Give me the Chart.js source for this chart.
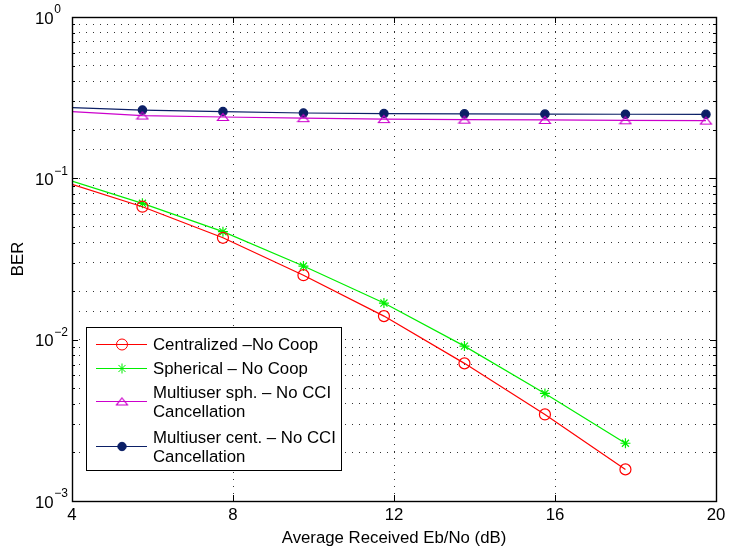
<!DOCTYPE html>
<html>
<head>
<meta charset="utf-8">
<script src="https://cdn.jsdelivr.net/npm/chart.js@4"></script>
<style>
  body { margin: 0; background: #fff; }
  canvas { display: block; }
</style>
</head>
<body>
<canvas id="berChart" width="731" height="554"></canvas>
<script>
// Eb/No (dB) sample points; first point only starts the line (no marker)
const ebno = [4, 5.75, 7.75, 9.75, 11.75, 13.75, 15.75, 17.75, 19.75];

const centralizedNoCoop = [0.0918, 0.0667, 0.0428, 0.0251, 0.0140, 0.00713, 0.00344, 0.00157];
const sphericalNoCoop = [0.0962, 0.0700, 0.0467, 0.0286, 0.01686, 0.00912, 0.00464, 0.00228];
const multiSphNoCCI = [0.259, 0.245, 0.240, 0.236, 0.233, 0.231, 0.230, 0.229, 0.228];
const multiCentNoCCI = [0.274, 0.265, 0.259, 0.254, 0.252, 0.251, 0.250, 0.2495, 0.249];

const xTicks = [4, 8, 12, 16, 20];
const yDecades = [-3, -2, -1, 0];

const FONT = "'Liberation Sans', Arial, Helvetica, sans-serif";
Chart.defaults.font.family = FONT;
Chart.defaults.font.size = 16.8;
Chart.defaults.color = '#000';

// flat hollow triangle like the matlab '^' marker
function makeTriangle(color) {
  const c = document.createElement('canvas');
  c.width = 14; c.height = 10;
  const g = c.getContext('2d');
  g.strokeStyle = color;
  g.lineWidth = 1.2;
  g.beginPath();
  g.moveTo(7, 1.5);
  g.lineTo(12.5, 8.5);
  g.lineTo(1.5, 8.5);
  g.closePath();
  g.stroke();
  return c;
}
const triMarker = makeTriangle('#cc00cc');

function pts(ys) {
  return ys.map((y, i) => ({ x: ebno[i], y: y }));
}
function radii(ys, r) {
  return ys.map((_, i) => i === 0 ? 0 : r);
}

const series = [
  { label: 'Centralized \u2013No Coop', data: centralizedNoCoop, color: '#ff0000', style: 'circle', r: 5.5, fill: false },
  { label: 'Spherical \u2013 No Coop', data: sphericalNoCoop, color: '#00ee00', style: 'star', r: 5, fill: false },
  { label: ['Multiuser sph. \u2013 No CCI', 'Cancellation'], data: multiSphNoCCI, color: '#cc00cc', style: triMarker, r: 6, fill: false },
  { label: ['Multiuser cent. \u2013 No CCI', 'Cancellation'], data: multiCentNoCCI, color: '#0b1f66', style: 'circle', r: 4.2, fill: true }
];

// frame, inner tick marks, y tick labels with exponents, legend
const matlabAxes = {
  id: 'matlabAxes',
  afterDraw(chart) {
    const ctx = chart.ctx;
    const a = chart.chartArea;
    const xs = chart.scales.x, ys = chart.scales.y;
    ctx.save();
    ctx.strokeStyle = '#000';
    ctx.lineWidth = 1.4;
    ctx.strokeRect(Math.round(a.left) + 0.5, Math.round(a.top) + 0.5,
      Math.round(a.right - a.left), Math.round(a.bottom - a.top));

    ctx.lineWidth = 1;
    ctx.beginPath();
    xTicks.forEach(v => {
      const px = Math.round(xs.getPixelForValue(v)) + 0.5;
      ctx.moveTo(px, a.bottom); ctx.lineTo(px, a.bottom - 6);
      ctx.moveTo(px, a.top); ctx.lineTo(px, a.top + 6);
    });
    yDecades.forEach(d => {
      for (let m = 1; m <= 9; m++) {
        const v = m * Math.pow(10, d);
        if (v > 1) break;
        const py = Math.round(ys.getPixelForValue(v)) + 0.5;
        const len = m === 1 ? 6 : 3;
        ctx.moveTo(a.left, py); ctx.lineTo(a.left + len, py);
        ctx.moveTo(a.right, py); ctx.lineTo(a.right - len, py);
      }
    });
    ctx.stroke();

    // y labels 10^n
    ctx.fillStyle = '#000';
    ctx.textAlign = 'left';
    ctx.textBaseline = 'middle';
    yDecades.forEach(d => {
      const py = ys.getPixelForValue(Math.pow(10, d));
      ctx.font = '16.8px ' + FONT;
      ctx.fillText('10', 35, py + 2);
      const w = ctx.measureText('10').width;
      ctx.font = '12px ' + FONT;
      ctx.fillText(d === 0 ? '0' : '\u2212' + (-d), 35 + w + 0.5, py - 7);
    });

    // legend
    const box = { x: 86, y: 327, w: 255, h: 143 };
    ctx.fillStyle = '#fff';
    ctx.fillRect(box.x, box.y, box.w, box.h);
    ctx.strokeStyle = '#000';
    ctx.lineWidth = 1;
    ctx.strokeRect(box.x + 0.5, box.y + 0.5, box.w, box.h);
    const rows = [
      { y: 344, lines: [344] },
      { y: 368, lines: [368] },
      { y: 401, lines: [392, 411] },
      { y: 446, lines: [437, 456] }
    ];
    ctx.font = '16.8px ' + FONT;
    series.forEach((s, i) => {
      const r = rows[i];
      ctx.strokeStyle = s.color;
      ctx.lineWidth = 1;
      ctx.beginPath();
      ctx.moveTo(96, r.y + 0.5); ctx.lineTo(147, r.y + 0.5);
      ctx.stroke();
      ctx.fillStyle = s.fill ? s.color : 'rgba(0,0,0,0)';
      Chart.helpers.drawPoint(ctx, { pointStyle: s.style, radius: s.r, rotation: 0, borderWidth: 1.2 }, 122, r.y + 0.5);
      ctx.fillStyle = '#000';
      const txt = Array.isArray(s.label) ? s.label : [s.label];
      txt.forEach((t, k) => ctx.fillText(t, 153, r.lines[k] + 1));
    });
    ctx.restore();
  }
};

new Chart(document.getElementById('berChart'), {
  type: 'line',
  data: {
    datasets: series.map(s => ({
      label: Array.isArray(s.label) ? s.label.join(' ') : s.label,
      data: pts(s.data),
      borderColor: s.color,
      backgroundColor: s.fill ? s.color : 'rgba(0,0,0,0)',
      pointBorderColor: s.color,
      pointBackgroundColor: s.fill ? s.color : 'rgba(0,0,0,0)',
      pointStyle: s.style,
      pointRadius: radii(s.data, s.r),
      pointBorderWidth: 1.2,
      borderWidth: 1.2,
      tension: 0
    }))
  },
  options: {
    responsive: false,
    animation: false,
    layout: { padding: { top: 17, right: 15, left: 0, bottom: 0 } },
    plugins: { legend: { display: false }, tooltip: { enabled: false } },
    scales: {
      x: {
        type: 'linear',
        min: 4, max: 20,
        afterBuildTicks(scale) { scale.ticks = xTicks.map(v => ({ value: v })); },
        afterFit(scale) { scale.height = 53; },
        ticks: { padding: 4, maxRotation: 0, autoSkip: false },
        grid: { color: '#333', lineWidth: 1, drawTicks: false },
        border: { display: false, dash: [1, 6] },
        title: { display: true, text: 'Average Received Eb/No (dB)', padding: 6 }
      },
      y: {
        type: 'logarithmic',
        min: 0.001, max: 1,
        afterFit(scale) { scale.width = 72; },
        ticks: { display: false },
        grid: { color: '#333', lineWidth: 1, drawTicks: false },
        border: { display: false, dash: [1, 6] },
        title: { display: true, text: 'BER', padding: 8 }
      }
    }
  },
  plugins: [matlabAxes]
});
</script>
</body>
</html>
